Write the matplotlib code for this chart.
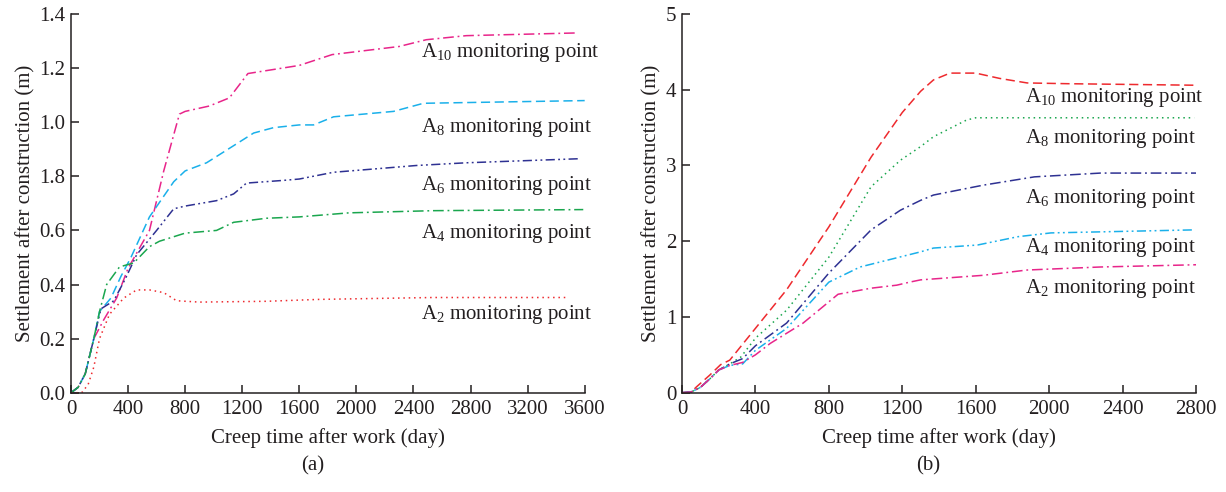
import matplotlib
matplotlib.use('Agg')
import matplotlib.pyplot as plt

# ---- data (a) ----
t_a10 = [0, 50, 100, 160, 230, 320, 400, 550, 650, 760, 800, 970, 1110, 1240, 1480, 1600, 1830, 2300, 2490, 2770, 3540]
a10 = [0, 0.02, 0.07, 0.2, 0.27, 0.35, 0.46, 0.60, 0.82, 1.03, 1.04, 1.06, 1.09, 1.18, 1.2, 1.21, 1.25, 1.28, 1.305, 1.32, 1.33]

t_a8 = [0, 50, 100, 160, 200, 280, 350, 420, 550, 720, 800, 950, 1070, 1280, 1420, 1600, 1700, 1840, 2260, 2470, 3600]
a8 = [0, 0.02, 0.07, 0.2, 0.3, 0.35, 0.43, 0.5, 0.65, 0.78, 0.82, 0.85, 0.89, 0.96, 0.98, 0.99, 0.99, 1.02, 1.04, 1.07, 1.08]

t_a6 = [0, 50, 100, 160, 210, 300, 380, 460, 600, 720, 800, 1020, 1140, 1230, 1490, 1600, 1840, 2190, 2420, 2770, 3560]
a6 = [0, 0.02, 0.07, 0.2, 0.31, 0.34, 0.42, 0.51, 0.6, 0.68, 0.69, 0.71, 0.735, 0.775, 0.785, 0.79, 0.815, 0.83, 0.84, 0.85, 0.865]

t_a4 = [0, 50, 100, 160, 200, 250, 340, 440, 550, 620, 800, 1020, 1140, 1370, 1600, 1950, 2540, 3590]
a4 = [0, 0.02, 0.07, 0.2, 0.3, 0.4, 0.465, 0.48, 0.54, 0.56, 0.59, 0.6, 0.63, 0.645, 0.65, 0.665, 0.673, 0.677]

t_a2 = [0, 75, 120, 160, 200, 270, 370, 460, 550, 650, 740, 900, 1370, 1740, 2540, 3480]
a2 = [0, 0, 0.03, 0.095, 0.2, 0.29, 0.35, 0.38, 0.38, 0.37, 0.34, 0.335, 0.338, 0.345, 0.352, 0.352]

# ---- data (b) ----
t_b10 = [0, 50, 80, 150, 210, 260, 320, 400, 570, 800, 1030, 1200, 1300, 1370, 1460, 1600, 1730, 1880, 2100, 2790]
b10 = [0, 0.01, 0.08, 0.23, 0.37, 0.43, 0.61, 0.85, 1.36, 2.19, 3.11, 3.7, 3.98, 4.13, 4.22, 4.22, 4.15, 4.09, 4.08, 4.06]

t_b8 = [0, 50, 100, 150, 200, 260, 320, 400, 570, 800, 1030, 1190, 1300, 1370, 1550, 1600, 2790]
b8 = [0, 0.01, 0.07, 0.18, 0.3, 0.38, 0.47, 0.72, 1.09, 1.79, 2.72, 3.07, 3.25, 3.38, 3.6, 3.63, 3.63]

t_b6 = [0, 50, 100, 150, 200, 260, 330, 400, 570, 800, 1030, 1190, 1300, 1370, 1640, 1920, 2280, 2810]
b6 = [0, 0.01, 0.07, 0.18, 0.3, 0.38, 0.45, 0.62, 0.92, 1.58, 2.15, 2.41, 2.54, 2.61, 2.74, 2.85, 2.9, 2.9]

t_b4 = [0, 50, 100, 150, 200, 260, 330, 400, 570, 800, 970, 1300, 1370, 1610, 1830, 2010, 2790]
b4 = [0, 0.01, 0.07, 0.18, 0.3, 0.36, 0.38, 0.56, 0.85, 1.46, 1.66, 1.86, 1.91, 1.95, 2.06, 2.11, 2.15]

t_b2 = [0, 50, 100, 150, 200, 260, 330, 400, 480, 660, 800, 850, 1030, 1170, 1240, 1300, 1640, 1880, 2280, 2810]
b2 = [0, 0.01, 0.07, 0.18, 0.3, 0.36, 0.4, 0.5, 0.65, 0.92, 1.2, 1.3, 1.38, 1.42, 1.46, 1.49, 1.55, 1.62, 1.66, 1.69]

ticks_a_x = [0, 400, 800, 1200, 1600, 2000, 2400, 2800, 3200, 3600]
ticks_a_y = [0.0, 0.2, 0.4, 0.6, 0.8, 1.0, 1.2, 1.4]
labels_a_y = ['0.0', '0.2', '0.4', '0.6', '1.8', '1.0', '1.2', '1.4']
ticks_b_x = [0, 400, 800, 1200, 1600, 2000, 2400, 2800]
ticks_b_y = [0, 1, 2, 3, 4, 5]

MAGENTA = '#e8258a'
CYAN = '#1ab0ea'
NAVY = '#2e3192'
GREEN = '#1aa64e'
RED = '#ee2a2e'
DARK = '#231f20'

DASH = (0, (6, 3))
DOT = (0, (1, 2.5))
DASHDOT = (0, (7, 2.5, 1.2, 2.5))
DASHDOTDOT = (0, (6, 2.2, 1.2, 2.2, 1.2, 2.2))

FS = 15


def config():
    plt.rcParams['font.family'] = ['Liberation Serif', 'DejaVu Serif']
    plt.rcParams['mathtext.fontset'] = 'custom'
    plt.rcParams['mathtext.rm'] = 'Liberation Serif'
    plt.rcParams['mathtext.it'] = 'Liberation Serif:italic'
    plt.rcParams['font.size'] = FS


def style_axis(ax):
    for s in ['top', 'right']:
        ax.spines[s].set_visible(False)
    for s in ['left', 'bottom']:
        ax.spines[s].set_color(DARK)
        ax.spines[s].set_linewidth(1.1)
    ax.tick_params(direction='in', length=6, width=1.1, color=DARK,
                   labelsize=FS, labelcolor=DARK)
    ax.tick_params(axis='x', pad=5)
    ax.tick_params(axis='y', pad=4)
    ax.set_xlabel('Creep time after work (day)', color=DARK, fontsize=FS, labelpad=7)
    ax.set_ylabel('Settlement after construction (m)', color=DARK, fontsize=FS, labelpad=3)


def graficas():
    fig = plt.figure(figsize=(12.26, 4.92), dpi=100)
    ax1 = fig.add_axes([0.0579, 0.2018, 0.4190, 0.7697])
    ax2 = fig.add_axes([0.5563, 0.2018, 0.4192, 0.7697])

    lw = 1.1
    # (a)
    ax1.plot(t_a10, a10, color=MAGENTA, lw=lw, linestyle=DASHDOT)
    ax1.plot(t_a8, a8, color=CYAN, lw=lw, linestyle=DASH)
    ax1.plot(t_a6, a6, color=NAVY, lw=lw, linestyle=DASHDOTDOT)
    ax1.plot(t_a4, a4, color=GREEN, lw=lw, linestyle=DASHDOT)
    ax1.plot(t_a2, a2, color=RED, lw=lw, linestyle=DOT)
    ax1.set_xlim(0, 3600)
    ax1.set_ylim(0, 1.4)
    ax1.set_xticks(ticks_a_x)
    ax1.set_yticks(ticks_a_y)
    ax1.set_yticklabels(labels_a_y)
    style_axis(ax1)
    kw = dict(color=DARK, fontsize=FS, va='center', ha='left')
    ax1.text(2450, 1.257, r'A$_{10}$ monitoring point', **kw)
    ax1.text(2450, 0.98, r'A$_{8}$ monitoring point', **kw)
    ax1.text(2450, 0.766, r'A$_{6}$ monitoring point', **kw)
    ax1.text(2450, 0.59, r'A$_{4}$ monitoring point', **kw)
    ax1.text(2450, 0.29, r'A$_{2}$ monitoring point', **kw)

    # (b)
    ax2.plot(t_b10, b10, color=RED, lw=lw, linestyle=DASH)
    ax2.plot(t_b8, b8, color=GREEN, lw=lw, linestyle=DOT)
    ax2.plot(t_b6, b6, color=NAVY, lw=lw, linestyle=DASHDOT)
    ax2.plot(t_b4, b4, color=CYAN, lw=lw, linestyle=DASHDOTDOT)
    ax2.plot(t_b2, b2, color=MAGENTA, lw=lw, linestyle=DASHDOT)
    ax2.set_xlim(0, 2800)
    ax2.set_ylim(0, 5)
    ax2.set_xticks(ticks_b_x)
    ax2.set_yticks(ticks_b_y)
    style_axis(ax2)
    ax2.text(1866, 3.9, r'A$_{10}$ monitoring point', **kw)
    ax2.text(1866, 3.36, r'A$_{8}$ monitoring point', **kw)
    ax2.text(1866, 2.57, r'A$_{6}$ monitoring point', **kw)
    ax2.text(1866, 1.92, r'A$_{4}$ monitoring point', **kw)
    ax2.text(1866, 1.37, r'A$_{2}$ monitoring point', **kw)

    fig.text(313 / 1226, 1 - 466 / 492, '(a)', ha='center', va='center', fontsize=FS, color=DARK)
    fig.text(928 / 1226, 1 - 466 / 492, '(b)', ha='center', va='center', fontsize=FS, color=DARK)

    fig.savefig('out.png', dpi=100)


if __name__ == '__main__':
    config()
    graficas()
